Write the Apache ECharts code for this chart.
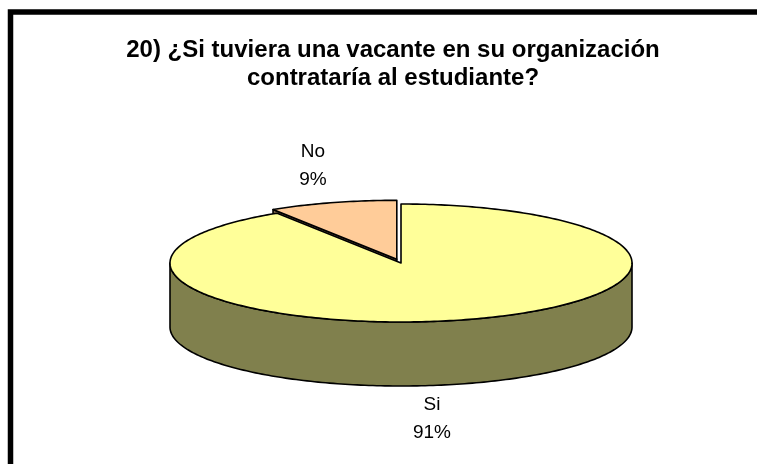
<!DOCTYPE html>
<html>
<head>
<meta charset="utf-8">
<script src="https://cdn.jsdelivr.net/npm/echarts@6/dist/echarts.min.js"></script>
<style>
  html, body { margin: 0; padding: 0; background: #fff; }
  #chart { width: 757px; height: 464px; }
</style>
</head>
<body>
<div id="chart"></div>
<script>
// data
const categories = ['Si', 'No'];
const values = [91, 9];
const titleLines = ['20) ¿Si tuviera una vacante en su organización', 'contrataría al estudiante?'];

// styles
const topColors = ['#FFFF99', '#FFCC99'];
const sideColors = ['#80804D', '#80664D'];

const total = values.reduce((a, b) => a + b, 0);
const starts = [];
values.reduce((acc, v, i) => { starts[i] = acc; return acc + v; }, 0);

// 3d pie geometry (excel-like)
const pie = { cx: 401, cy: 263, rx: 231, ry: 59, depth: 64 };
const explode = [0, 0.065];
const labelAt = [[432, 405], [313, 152]];

function renderSlice(params, api) {
    const i = params.dataIndex;
    const v = api.value(1);
    const a0 = starts[i] / total * 360;
    const a1 = a0 + v / total * 360;
    const mid = (a0 + a1) / 2 * Math.PI / 180;
    const ox = explode[i] * pie.rx * Math.sin(mid);
    const oy = -explode[i] * pie.ry * Math.cos(mid);
    const cx = pie.cx + ox, cy = pie.cy + oy;
    const pt = (deg, dz) => {
        const r = deg * Math.PI / 180;
        return [cx + pie.rx * Math.sin(r), cy - pie.ry * Math.cos(r) + dz];
    };
    const arc = (s, e, dz) => {
        const pts = [];
        const n = Math.max(2, Math.ceil(Math.abs(e - s)));
        for (let k = 0; k <= n; k++) pts.push(pt(s + (e - s) * k / n, dz));
        return pts;
    };
    const base = Math.round(-Math.cos(mid) * 100) + 100;
    const stroke = { stroke: '#000', lineWidth: 1.6, lineJoin: 'round' };
    const children = [];

    // radial walls facing the viewer
    const rad = (a) => ({
        type: 'polygon', z2: base,
        shape: { points: [[cx, cy], pt(a, 0), pt(a, pie.depth), [cx, cy + pie.depth]] },
        style: Object.assign({ fill: sideColors[i] }, stroke)
    });
    if (Math.sin(a0 * Math.PI / 180) < -0.01) children.push(rad(a0));
    if (Math.sin(a1 * Math.PI / 180) > 0.01) children.push(rad(a1));

    // outer wall (front half only)
    const s = Math.max(a0, 90), e = Math.min(a1, 270);
    if (e > s) {
        children.push({
            type: 'polygon', z2: base + 1,
            shape: { points: arc(s, e, 0).concat(arc(e, s, pie.depth)) },
            style: Object.assign({ fill: sideColors[i] }, stroke)
        });
    }

    // top face
    children.push({
        type: 'polygon', z2: base + 2,
        shape: { points: [[cx, cy]].concat(arc(a0, a1, 0)) },
        style: Object.assign({ fill: topColors[i] }, stroke)
    });

    // label
    children.push({
        type: 'text', z2: 300,
        x: labelAt[i][0], y: labelAt[i][1] - 14,
        style: {
            text: categories[i] + '\n' + Math.round(v / total * 100) + '%',
            fill: '#000',
            font: '19px "Liberation Sans", Arial, sans-serif',
            lineHeight: 28,
            align: 'center',
            verticalAlign: 'top'
        }
    });

    return { type: 'group', children: children };
}

const chart = echarts.init(document.getElementById('chart'));
chart.setOption({
    animation: false,
    backgroundColor: '#fff',
    title: {
        text: titleLines.join('\n'),
        left: 388,
        top: 31,
        textAlign: 'center',
        textStyle: {
            fontFamily: '"Liberation Sans", Arial, sans-serif',
            fontSize: 24,
            fontWeight: 'bold',
            color: '#000',
            lineHeight: 28,
            align: 'center'
        }
    },
    graphic: [{
        type: 'rect',
        shape: { x: 10.5, y: 12, width: 900, height: 600 },
        style: { fill: 'none', stroke: '#000', lineWidth: 5.5 },
        silent: true
    }],
    series: [{
        type: 'custom',
        coordinateSystem: 'none',
        renderItem: renderSlice,
        data: categories.map((c, i) => [c, values[i]])
    }]
});
</script>
</body>
</html>
